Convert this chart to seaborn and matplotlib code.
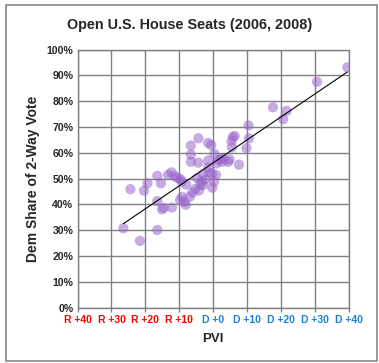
import numpy as np
import pandas as pd
import seaborn as sns
import matplotlib.pyplot as plt
from matplotlib.patches import Rectangle

# PVI (negative = R lean, positive = D lean) and Dem share of 2-way vote (%)
pvi = [-26.5, -24.4, -21.6, -20.4, -19.4, -16.5, -16.5, -16.5, -15.4, -15.1,
       -14.6, -13.3, -12.3, -12.2, -11.4, -10.6, -9.7, -9.3, -9.8, -9.2,
       -8.5, -8.1, -8.0, -6.9, -6.6, -6.6, -6.6, -6.1, -5.3, -4.8,
       -4.4, -4.4, -4.2, -3.4, -3.0, -3.0, -2.3, -1.5, -1.5, -1.5,
       -1.2, -0.6, -0.4, -0.3, 0.2, 0.3, 0.8, 1.0, 1.7, 2.3,
       2.7, 3.0, 4.4, 4.8, 5.4, 5.5, 5.8, 6.3, 7.6, 9.8,
       10.4, 10.5, 17.6, 20.6, 21.6, 30.6, 39.5, -3.8]
dem_share = [30.8, 45.9, 25.9, 45.3, 48.2, 51.1, 41.3, 30.1, 48.2, 38.1,
             38.7, 51.5, 52.4, 38.8, 51.0, 50.3, 49.8, 48.9, 41.7, 42.9,
             41.0, 39.9, 47.7, 43.0, 62.8, 59.3, 56.5, 44.6, 46.0, 50.2,
             56.2, 65.6, 45.4, 48.9, 47.5, 51.7, 49.7, 63.8, 57.0, 54.3,
             52.3, 63.0, 52.0, 46.5, 48.8, 59.6, 51.4, 55.9, 57.2, 57.8,
             56.5, 57.7, 56.5, 57.4, 64.5, 62.1, 66.1, 66.5, 55.4, 61.8,
             70.6, 65.6, 77.6, 73.0, 76.2, 87.5, 93.1, 47.7]

x_ticks = [-40, -30, -20, -10, 0, 10, 20, 30, 40]
x_labels = ["R +40", "R +30", "R +20", "R +10", "D +0", "D +10", "D +20", "D +30", "D +40"]
y_ticks = [0, 10, 20, 30, 40, 50, 60, 70, 80, 90, 100]

df = pd.DataFrame({"pvi": pvi, "share": dem_share})

sns.set_style("white")
plt.rcParams['font.family'] = ['Liberation Sans', 'DejaVu Sans']

fig = plt.figure(figsize=(3.79, 3.63), dpi=100)
ax = fig.add_axes([0.2045, 0.1523, 0.7163, 0.7113])

# outer frame
fig.patches.append(Rectangle((6 / 379, 1 - 361 / 363), 371 / 379, 356 / 363,
                             transform=fig.transFigure, fill=False,
                             edgecolor='#888888', linewidth=1.2))

sns.scatterplot(data=df, x="pvi", y="share", ax=ax, s=55, color='#9966CC',
                alpha=0.55, edgecolor='none', zorder=3)

# linear trendline over the data range
k, b = np.polyfit(df["pvi"], df["share"], 1)
xs = np.array([df["pvi"].min(), df["pvi"].max()])
ax.plot(xs, k * xs + b, color='black', linewidth=0.8, zorder=4)

ax.set_xlim(-40, 40)
ax.set_ylim(0, 100)
ax.set_xticks(x_ticks)
ax.set_xticklabels(x_labels)
ax.set_yticks(y_ticks)
ax.set_yticklabels([f"{v}%" for v in y_ticks])
ax.grid(True, color='#808080', linewidth=1.0)
ax.set_axisbelow(True)
for side, sp in ax.spines.items():
    sp.set_color('#808080')
    sp.set_linewidth(1.0)

ax.tick_params(axis='x', which='both', length=3, color='#808080', width=1.0,
               labelsize=7.5, pad=2, direction='out', bottom=True)
ax.tick_params(axis='y', length=0, labelsize=7.6, pad=3)
for lbl, v in zip(ax.get_xticklabels(), x_ticks):
    lbl.set_color('#FF0000' if v < 0 else '#1F7FD6')
    lbl.set_fontweight('bold')
for lbl in ax.get_yticklabels():
    lbl.set_fontweight('bold')

ax.set_xlabel("PVI", fontsize=9.5, fontweight='bold', labelpad=6)
ax.set_ylabel("Dem Share of 2-Way Vote", fontsize=10, fontweight='bold', labelpad=5)
fig.text(0.5, 1 - 25 / 363, "Open U.S. House Seats (2006, 2008)", fontsize=10.4,
         fontweight='bold', ha='center', va='center')

fig.savefig("out.png", dpi=100)
